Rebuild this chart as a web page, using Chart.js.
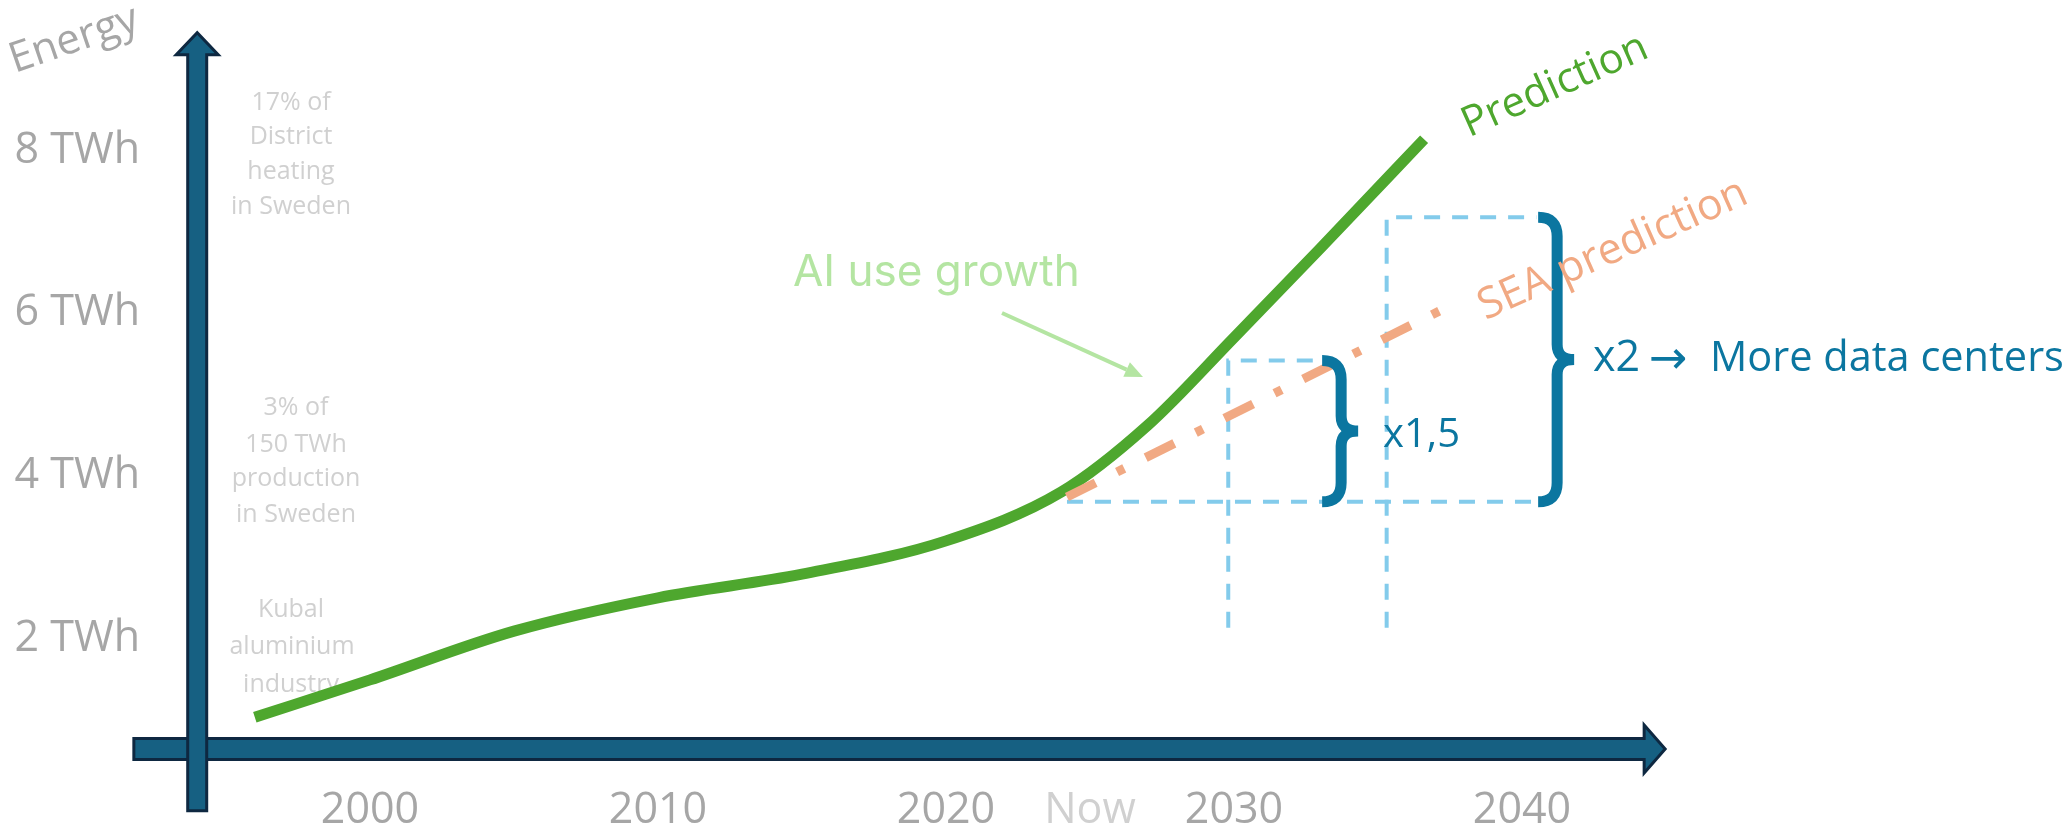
<!DOCTYPE html>
<html><head><meta charset="utf-8">
<script src="https://cdn.jsdelivr.net/npm/chart.js@4.4.1/dist/chart.umd.min.js"></script>
<style>html,body{margin:0;padding:0;background:#fff;overflow:hidden}canvas{display:block}</style>
</head><body>
<canvas id="c" width="2070" height="836"></canvas>
<script>
// ---------- data ----------
const PRED_YEARS = [1996, 2000, 2005, 2010, 2015, 2020, 2024, 2027, 2030, 2033, 2036.6];
const PRED_TWH   = [1.03, 1.49, 2.09, 2.50, 2.79, 3.20, 3.80, 4.62, 5.70, 6.80, 8.14];
const SEA_YEARS  = [2024.2, 2037.2];
const SEA_TWH    = [3.74, 6.04];
const GUIDE_BASE_YEARS = [2024.2, 2040.6];
const GUIDE_BASE_TWH   = [3.68, 3.68];
const GUIDE_15_YEARS   = [2029.8, 2029.8, 2033.1];
const GUIDE_15_TWH     = [2.13, 5.42, 5.42];
const GUIDE_2_YEARS    = [2035.3, 2035.3, 2040.5];
const GUIDE_2_TWH      = [2.13, 7.18, 7.18];
const BRACE_YEARS = [2033.06, 2040.56];
const BRACE_LOW   = [3.68, 3.68];
const BRACE_HIGH  = [5.42, 7.18];
const X_TICKS = [2000, 2010, 2020, 2025, 2030, 2040];
const X_TICK_LABELS = ['2000', '2010', '2020', 'Now', '2030', '2040'];
const Y_TICKS = [2, 4, 6, 8];
const Y_TICK_LABELS = ['2 TWh', '4 TWh', '6 TWh', '8 TWh'];

// ---------- layout / style ----------
const AXIS = { vAtYear: 1994.0, vFrom: -0.12, vTo: 9.45, hAtTwh: 0.64, hFrom: 1991.8, hTo: 2044.97 };
const C = {
  green: '#4EA72E', orange: '#F1A983', guide: '#83CBEB', brace: '#0B76A0',
  axisFill: '#166082', axisLine: '#0E2841', tick: '#A6A6A6', light: '#D0D0D0', ai: '#B4E5A2'
};
const FONT = '"Open Sans", "Noto Sans", sans-serif';

function pts(xs, ys) { return xs.map((v, i) => ({ x: v, y: ys[i] })); }

function txt(ctx, s, px, py, size, color, align, base, rot, family, fitW) {
  ctx.save();
  ctx.translate(px, py);
  if (rot) ctx.rotate(rot * Math.PI / 180);
  const fam = family || FONT;
  ctx.font = size + 'px ' + fam;
  if (fitW) {
    const w = ctx.measureText(s).width;
    if (w > 0) ctx.font = (size * fitW / w).toFixed(2) + 'px ' + fam;
  }
  ctx.fillStyle = color;
  ctx.textAlign = align || 'center';
  ctx.textBaseline = base || 'middle';
  ctx.fillText(s, 0, 0);
  ctx.restore();
}

function arrowShape(ctx, pts) {
  ctx.beginPath();
  pts.forEach((p, i) => i ? ctx.lineTo(p[0], p[1]) : ctx.moveTo(p[0], p[1]));
  ctx.closePath();
  ctx.fillStyle = C.axisFill; ctx.fill();
  ctx.lineWidth = 3; ctx.strokeStyle = C.axisLine; ctx.lineJoin = 'miter'; ctx.stroke();
}

function brace(ctx, xL, yT, yB, color) {
  const bodyDx = 19, tipDx = 36, r = 19, r2 = 15;
  const xB = xL + bodyDx, xT = xL + tipDx, yM = (yT + yB) / 2;
  ctx.save();
  ctx.strokeStyle = color; ctx.lineWidth = 11; ctx.lineCap = 'butt'; ctx.lineJoin = 'round';
  ctx.beginPath();
  ctx.moveTo(xL, yT);
  ctx.quadraticCurveTo(xB, yT, xB, yT + r);
  ctx.lineTo(xB, yM - r2);
  ctx.quadraticCurveTo(xB, yM, xT, yM);
  ctx.moveTo(xT, yM);
  ctx.quadraticCurveTo(xB, yM, xB, yM + r2);
  ctx.lineTo(xB, yB - r);
  ctx.quadraticCurveTo(xB, yB, xL, yB);
  ctx.stroke();
  ctx.restore();
}

const decor = {
  id: 'decor',
  beforeDatasetsDraw(chart) {
    const { ctx, scales: { x, y } } = chart;
    ctx.save();
    // horizontal axis arrow
    const yc = y.getPixelForValue(AXIS.hAtTwh);
    const hx0 = x.getPixelForValue(AXIS.hFrom), hxt = x.getPixelForValue(AXIS.hTo);
    const hb = hxt - 21, h = 10.5, H = 24;
    arrowShape(ctx, [[hx0, yc - h], [hb, yc - h], [hb, yc - H], [hxt, yc], [hb, yc + H], [hb, yc + h], [hx0, yc + h]]);
    // vertical axis arrow
    const xc = x.getPixelForValue(AXIS.vAtYear);
    const vy0 = y.getPixelForValue(AXIS.vFrom), vyt = y.getPixelForValue(AXIS.vTo);
    const vb = vyt + 22, w = 9.5, W = 21;
    arrowShape(ctx, [[xc - w, vy0], [xc - w, vb], [xc - W, vb], [xc, vyt], [xc + W, vb], [xc + w, vb], [xc + w, vy0]]);

    // axis title
    txt(ctx, 'Energy', 74, 40, 42, C.tick, 'center', 'middle', -19);
    // reference annotations
    const a = 25;
    [['17% of', 291, 103], ['District', 291, 137], ['heating', 291, 172], ['in Sweden', 291, 207],
     ['3% of', 296, 408], ['150 TWh', 296, 445], ['production', 296, 479], ['in Sweden', 296, 515],
     ['Kubal', 291, 610], ['aluminium', 292, 647], ['industry', 291, 685]]
      .forEach(t => txt(ctx, t[0], t[1], t[2], a, C.light));
    ctx.restore();
  },
  afterDatasetsDraw(chart) {
    const { ctx, scales: { x, y } } = chart;
    ctx.save();
    // braces
    BRACE_YEARS.forEach((yr, i) => {
      brace(ctx, x.getPixelForValue(yr), y.getPixelForValue(BRACE_HIGH[i]), y.getPixelForValue(BRACE_LOW[i]), C.brace);
    });
    txt(ctx, 'x1,5', 1383, 436, 40, C.brace, 'left');
    txt(ctx, 'x2', 1593, 359, 43, C.brace, 'left');
    txt(ctx, '\u2192', 1649, 361, 46, C.brace, 'left', 'middle', 0, '"DejaVu Sans", sans-serif');
    txt(ctx, 'More data centers', 1710, 359, 43, C.brace, 'left', 'middle', 0, null, 354);
    // series labels
    txt(ctx, 'Prediction', 1555, 86, 42, C.green, 'center', 'middle', -24);
    txt(ctx, 'SEA prediction', 1613, 250, 43, C.orange, 'center', 'middle', -24);
    // AI use growth
    txt(ctx, 'AI use growth', 793, 286, 44, C.ai, 'left', 'alphabetic', 0, 'Inter, "Open Sans", sans-serif');
    const ax0 = 1002, ay0 = 313, ax1 = 1143, ay1 = 377;
    const ang = Math.atan2(ay1 - ay0, ax1 - ax0), hl = 18, hw = 8;
    ctx.strokeStyle = C.ai; ctx.fillStyle = C.ai; ctx.lineWidth = 4;
    ctx.beginPath(); ctx.moveTo(ax0, ay0);
    ctx.lineTo(ax1 - hl * Math.cos(ang), ay1 - hl * Math.sin(ang)); ctx.stroke();
    ctx.beginPath(); ctx.moveTo(ax1, ay1);
    ctx.lineTo(ax1 - hl * Math.cos(ang) + hw * Math.sin(ang), ay1 - hl * Math.sin(ang) - hw * Math.cos(ang));
    ctx.lineTo(ax1 - hl * Math.cos(ang) - hw * Math.sin(ang), ay1 - hl * Math.sin(ang) + hw * Math.cos(ang));
    ctx.closePath(); ctx.fill();
    ctx.restore();
  }
};

const guideStyle = { borderColor: C.guide, borderWidth: 4, borderDash: [16, 12], pointRadius: 0, tension: 0, fill: false, borderCapStyle: 'butt' };
const noPad = s => { s.paddingTop = 0; s.paddingBottom = 0; s.paddingLeft = 0; s.paddingRight = 0; };

new Chart(document.getElementById('c'), {
  type: 'line',
  data: {
    datasets: [
      { label: 'SEA prediction', data: pts(SEA_YEARS, SEA_TWH), borderColor: C.orange, borderWidth: 9,
        borderDash: [32, 24, 8, 24], borderCapStyle: 'butt', pointRadius: 0, tension: 0, order: 1 },
      { label: 'Prediction', data: pts(PRED_YEARS, PRED_TWH), borderColor: C.green, borderWidth: 11,
        cubicInterpolationMode: 'monotone', borderCapStyle: 'butt', pointRadius: 0, order: 2 },
      Object.assign({ label: 'base', data: pts(GUIDE_BASE_YEARS, GUIDE_BASE_TWH), order: 3 }, guideStyle),
      Object.assign({ label: 'x1.5', data: pts(GUIDE_15_YEARS, GUIDE_15_TWH), order: 3 }, guideStyle),
      Object.assign({ label: 'x2', data: pts(GUIDE_2_YEARS, GUIDE_2_TWH), order: 3 }, guideStyle)
    ]
  },
  options: {
    responsive: false, animation: false, devicePixelRatio: 1,
    layout: { padding: { top: 10, right: 10, left: 0, bottom: 0 } },
    plugins: { legend: { display: false }, tooltip: { enabled: false } },
    scales: {
      x: {
        type: 'linear', min: 1992.708, max: 2058.68,
        afterBuildTicks: s => { s.ticks = X_TICKS.map(v => ({ value: v })); },
        afterFit: s => { s.height = 51; noPad(s); },
        grid: { display: false, drawTicks: false }, border: { display: false },
        ticks: {
          autoSkip: false, maxRotation: 0, padding: 0,
          font: { family: FONT, size: 43 },
          color: c => X_TICK_LABELS[c.index] === 'Now' ? C.light : C.tick,
          callback: (v, i) => X_TICK_LABELS[i]
        }
      },
      y: {
        type: 'linear', min: 0.197, max: 9.73,
        afterBuildTicks: s => { s.ticks = Y_TICKS.map(v => ({ value: v })); },
        afterFit: s => { s.width = 160; noPad(s); },
        grid: { display: false, drawTicks: false }, border: { display: false },
        ticks: {
          padding: 20, font: { family: FONT, size: 43 }, color: C.tick,
          callback: (v, i) => Y_TICK_LABELS[i]
        }
      }
    }
  },
  plugins: [decor]
});
</script>
</body></html>
